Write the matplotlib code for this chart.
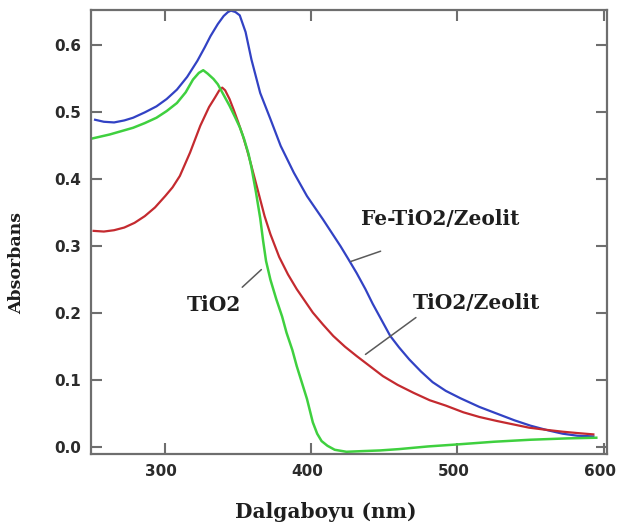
import matplotlib
matplotlib.use("Agg")
import matplotlib.pyplot as plt
import matplotlib.transforms as mtransforms

# Fe-TiO2/Zeolit (blue)
wl_fe = [252, 258, 265, 272, 278, 286, 294, 301, 308, 315, 322, 327, 331, 336,
         340, 343, 345, 348, 351, 355, 359, 365, 372, 379, 388, 397, 408, 420,
         425, 431, 437, 442, 448, 454, 460, 467, 475, 483, 492, 502, 515, 527,
         539, 550, 562, 572, 582, 593]
abs_fe = [0.489, 0.486, 0.485, 0.488, 0.492, 0.500, 0.509, 0.520, 0.534, 0.553,
          0.577, 0.597, 0.614, 0.632, 0.644, 0.650, 0.652, 0.650, 0.645, 0.620,
          0.579, 0.529, 0.490, 0.450, 0.410, 0.375, 0.340, 0.300, 0.282, 0.260,
          0.236, 0.214, 0.190, 0.166, 0.149, 0.131, 0.113, 0.097, 0.084, 0.073,
          0.060, 0.050, 0.040, 0.032, 0.025, 0.020, 0.017, 0.016]

# TiO2/Zeolit (red)
wl_tz = [251, 258, 265, 272, 279, 286, 293, 300, 305, 310, 317, 324, 330, 334,
         337, 339, 341, 344, 347, 350, 353, 356, 359, 362, 365, 368, 372, 378,
         384, 390, 401, 408, 415, 423, 431, 440, 449, 459, 470, 481, 492, 504,
         515, 527, 538, 549, 560, 572, 582, 593]
abs_tz = [0.323, 0.322, 0.324, 0.328, 0.335, 0.345, 0.358, 0.375, 0.388, 0.405,
          0.440, 0.480, 0.508, 0.522, 0.533, 0.537, 0.533, 0.520, 0.503, 0.485,
          0.466, 0.444, 0.420, 0.395, 0.370, 0.345, 0.318, 0.284, 0.258, 0.236,
          0.201, 0.183, 0.166, 0.150, 0.136, 0.121, 0.106, 0.093, 0.081, 0.070,
          0.062, 0.052, 0.045, 0.039, 0.034, 0.029, 0.026, 0.023, 0.021, 0.019]

# TiO2 (green)
wl_ti = [250, 256, 262, 270, 278, 286, 294, 301, 308, 314, 319, 323, 326, 329,
         333, 336, 340, 344, 348, 351, 354, 357, 359, 362, 365, 367, 369, 372,
         376, 380, 383, 387, 390, 394, 397, 401, 404, 407, 411, 416, 424, 435,
         447, 460, 480, 500, 525, 550, 575, 595]
abs_ti = [0.461, 0.464, 0.467, 0.472, 0.477, 0.484, 0.492, 0.502, 0.514, 0.530,
          0.549, 0.559, 0.563, 0.558, 0.550, 0.542, 0.526, 0.510, 0.492, 0.478,
          0.460, 0.438, 0.418, 0.382, 0.342, 0.308, 0.278, 0.250, 0.221, 0.195,
          0.171, 0.145, 0.121, 0.093, 0.072, 0.037, 0.020, 0.009, 0.002, -0.004,
          -0.007, -0.006, -0.005, -0.003, 0.001, 0.004, 0.008, 0.011, 0.013, 0.014]

xticks = [300, 400, 500, 600]
yticks = [0.0, 0.1, 0.2, 0.3, 0.4, 0.5, 0.6]

fig = plt.figure(figsize=(6.17, 5.25), dpi=100)
ax = fig.add_axes([0.147, 0.135, 0.836, 0.846])

ax.plot(wl_fe, abs_fe, color="#3242c4", lw=1.6)
ax.plot(wl_tz, abs_tz, color="#c42a2f", lw=1.6)
ax.plot(wl_ti, abs_ti, color="#3fd03f", lw=1.8)

ax.set_xlim(249, 602)
ax.set_ylim(-0.0105, 0.653)
ax.set_xticks(xticks)
ax.set_yticks(yticks)
ax.set_yticklabels(["%.1f" % v for v in yticks])

for s in ax.spines.values():
    s.set_color("#6e6e6e")
    s.set_linewidth(1.6)
ax.tick_params(direction="in", length=8, width=1.5, color="#6e6e6e",
               top=True, right=True, pad=7, labelsize=11, labelcolor="#2b2b2b")
for lab in ax.get_xticklabels() + ax.get_yticklabels():
    lab.set_fontweight("bold")
    lab.set_family("DejaVu Sans")

# x tick labels sit a little left of their ticks in the original
shift = mtransforms.ScaledTranslation(-4 / 100, 0, fig.dpi_scale_trans)
for lab in ax.get_xticklabels():
    lab.set_transform(lab.get_transform() + shift)

ax.set_xlabel("Dalgaboyu (nm)", family="DejaVu Serif", fontweight="bold",
              fontsize=14.5, color="#1e1e1e")
ax.xaxis.label.set_va("center")
ax.xaxis.set_label_coords(0.455, -0.130)
ax.set_ylabel("Absorbans", family="DejaVu Serif", fontweight="bold",
              fontsize=12.5, color="#1e1e1e")
ax.yaxis.label.set_va("center")
ax.yaxis.set_label_coords(-0.143, 0.43)

txt = dict(family="DejaVu Serif", fontweight="bold", fontsize=14.5,
           color="#1e1e1e", va="center", ha="left")
ax.text(434, 0.340, "Fe-TiO2/Zeolit", **txt)
ax.text(315, 0.213, "TiO2", **txt)
ax.text(469.5, 0.216, "TiO2/Zeolit", **txt)

line = dict(arrowstyle="-", color="#5a5a5a", lw=1.1)
ax.annotate("", xy=(425.3, 0.276), xytext=(449.2, 0.294), arrowprops=line)
ax.annotate("", xy=(367.2, 0.268), xytext=(351.3, 0.236), arrowprops=line)
ax.annotate("", xy=(435.5, 0.136), xytext=(473.1, 0.196), arrowprops=line)

fig.savefig("out.png", dpi=100)
